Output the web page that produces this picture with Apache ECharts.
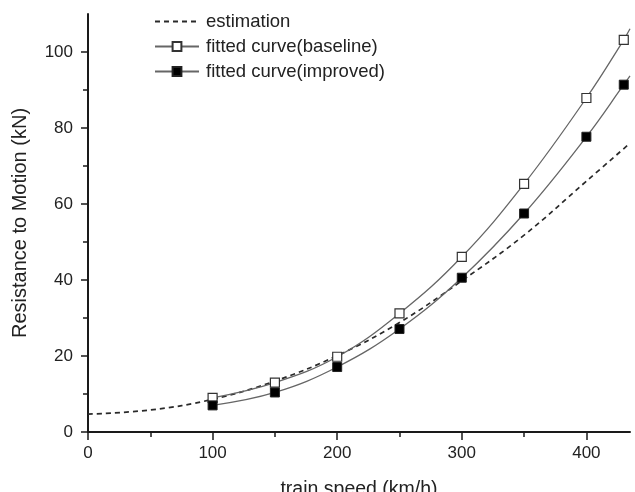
<!DOCTYPE html>
<html>
<head>
<meta charset="utf-8">
<script src="https://cdn.jsdelivr.net/npm/echarts@6/dist/echarts.min.js"></script>
<style>
  html, body { margin: 0; padding: 0; background: #fff; }
  #chart { width: 635px; height: 492px; }
</style>
</head>
<body>
<div id="chart"></div>
<script>
// estimation (dashed)
const estSpeed = [0, 50, 100, 150, 200, 250, 300, 350, 400, 435]
const estValue = [4.7, 5.8, 8.6, 13.4, 20.1, 28.8, 39.8, 51.8, 66.0, 76.0]

// measured points for both fitted curves
const fitSpeed = [100, 150, 200, 250, 300, 350, 400, 430]
const baseline = [9.0, 13.0, 19.8, 31.2, 46.1, 65.3, 87.9, 103.2]
const improved = [7.0, 10.4, 17.1, 27.1, 40.6, 57.5, 77.7, 91.4]

// where the fitted curves leave the plot on the right
const edgeSpeed = 435
const baselineEdge = 106.1
const improvedEdge = 93.7

const xMajor = [0, 100, 200, 300, 400]
const xMinor = [50, 150, 250, 350]
const yMajor = [0, 20, 40, 60, 80, 100]
const yMinor = [10, 30, 50, 70, 90]

const FONT = 'Liberation Sans, Arial, sans-serif'
const INK = '#1a1a1a'

const pairs = (xs, ys) => xs.map((x, i) => [x, ys[i]])
const withEdge = (xs, ys, ex, ey) => [...pairs(xs, ys), { value: [ex, ey], symbol: 'none' }]

const chart = echarts.init(document.getElementById('chart'), null, { renderer: 'canvas' })

const axisLine = { show: true, lineStyle: { color: INK, width: 2 } }

chart.setOption({
  animation: false,
  backgroundColor: '#fff',
  grid: { left: 88, right: 5, top: 14, bottom: 60, outerBoundsMode: 'none', containLabel: false },
  legend: {
    orient: 'vertical',
    left: 149,
    top: 7,
    itemWidth: 44,
    itemHeight: 11,
    itemGap: 6,
    textStyle: { fontFamily: FONT, fontSize: 18.5, color: '#222', padding: [0, 0, 0, 2] },
    data: [
      { name: 'estimation', itemStyle: { opacity: 0 } },
      'fitted curve(baseline)',
      'fitted curve(improved)',
    ],
  },
  xAxis: [
    {
      type: 'value',
      min: 0,
      max: 435,
      name: 'train speed (km/h)',
      nameLocation: 'middle',
      nameGap: 48,
      nameTextStyle: { fontFamily: FONT, fontSize: 19.5, color: '#222' },
      axisLine,
      axisTick: { show: true, inside: false, length: 8, customValues: xMajor, lineStyle: { color: INK, width: 1.5 } },
      axisLabel: { customValues: xMajor, margin: 13, fontFamily: FONT, fontSize: 17, color: '#222' },
      splitLine: { show: false },
    },
    {
      type: 'value',
      min: 0,
      max: 435,
      position: 'bottom',
      axisLine: { show: false },
      axisTick: { show: true, inside: false, length: 5, customValues: xMinor, lineStyle: { color: INK, width: 1.5 } },
      axisLabel: { show: false },
      splitLine: { show: false },
    },
  ],
  yAxis: [
    {
      type: 'value',
      min: 0,
      max: 110,
      name: 'Resistance to Motion (kN)',
      nameLocation: 'middle',
      nameGap: 58,
      nameTextStyle: { fontFamily: FONT, fontSize: 20, color: '#222' },
      axisLine,
      axisTick: { show: true, inside: false, length: 7, customValues: yMajor, lineStyle: { color: INK, width: 1.5 } },
      axisLabel: { customValues: yMajor, margin: 15, fontFamily: FONT, fontSize: 17, color: '#222' },
      splitLine: { show: false },
    },
    {
      type: 'value',
      min: 0,
      max: 110,
      position: 'left',
      axisLine: { show: false },
      axisTick: { show: true, inside: false, length: 5, customValues: yMinor, lineStyle: { color: INK, width: 1.5 } },
      axisLabel: { show: false },
      splitLine: { show: false },
    },
  ],
  series: [
    {
      name: 'estimation',
      type: 'line',
      smooth: 0.4,
      symbol: 'none',
      data: pairs(estSpeed, estValue),
      lineStyle: { color: '#2a2a2a', width: 1.7, type: [5, 4] },
      itemStyle: { color: '#2a2a2a' },
      z: 2,
    },
    {
      name: 'fitted curve(baseline)',
      type: 'line',
      smooth: 0.4,
      symbol: 'rect',
      symbolSize: 9,
      data: withEdge(fitSpeed, baseline, edgeSpeed, baselineEdge),
      lineStyle: { color: '#666', width: 1.3 },
      itemStyle: { color: '#fff', borderColor: '#333', borderWidth: 1.2 },
      z: 3,
    },
    {
      name: 'fitted curve(improved)',
      type: 'line',
      smooth: 0.4,
      symbol: 'rect',
      symbolSize: 9,
      data: withEdge(fitSpeed, improved, edgeSpeed, improvedEdge),
      lineStyle: { color: '#666', width: 1.3 },
      itemStyle: { color: '#000', borderColor: '#222', borderWidth: 1 },
      z: 3,
    },
  ],
})
</script>
</body>
</html>
